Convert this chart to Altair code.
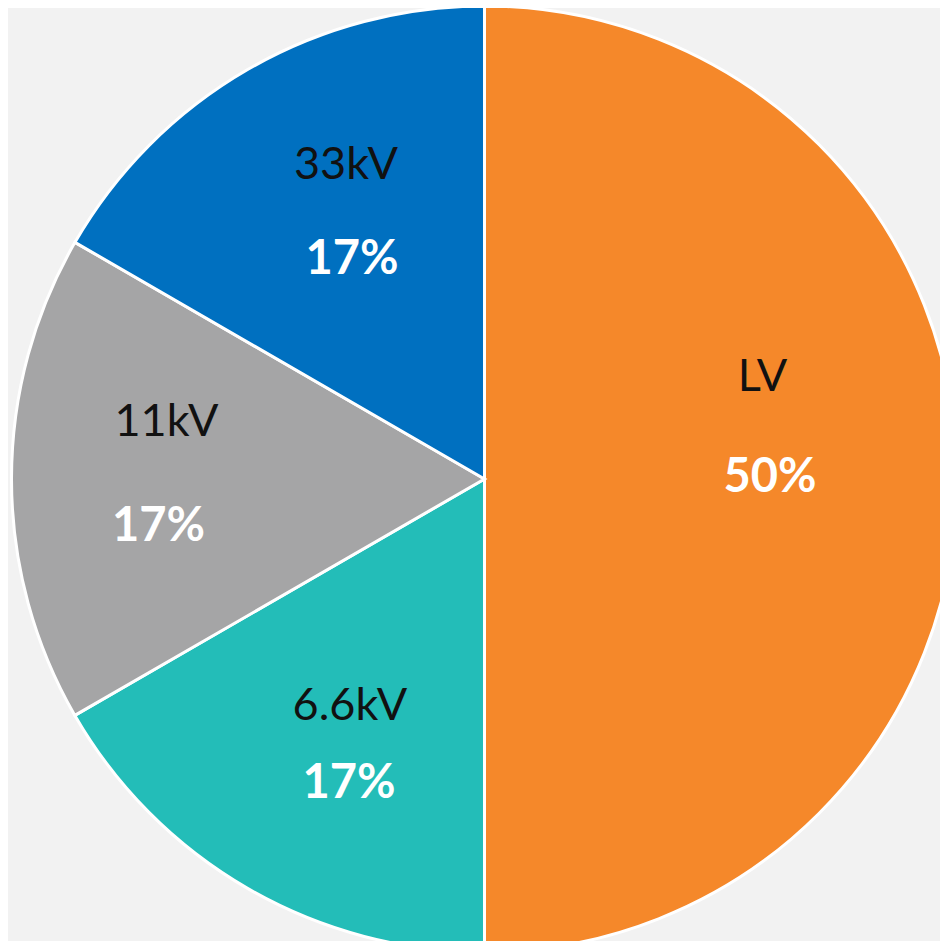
import altair as alt
import pandas as pd

categories = ["LV", "6.6kV", "11kV", "33kV"]
shares = [50, 16.67, 16.67, 16.66]
order = [1, 2, 3, 4]
colors = ["#F5882A", "#23BDB8", "#A5A5A6", "#0070C0"]

df = pd.DataFrame({"category": categories, "share": shares, "order": order})

CX, CY = 476.5, 471
R = 473

pie = alt.Chart(df).mark_arc(radius=R, stroke="white", strokeWidth=3, clip=True).encode(
    theta=alt.Theta("share:Q", stack=True),
    order=alt.Order("order:Q"),
    color=alt.Color("category:N", scale=alt.Scale(domain=categories, range=colors), legend=None),
    x=alt.value(CX),
    y=alt.value(CY),
)

base = (
    alt.Chart(df)
    .transform_joinaggregate(total="sum(share)")
    .transform_window(cum="sum(share)", sort=[alt.SortField("order")])
    .transform_calculate(
        mid="datum.cum - datum.share / 2",
        pct="format(datum.share / datum.total, '.0%')",
    )
)

# label placement style: (anchor radius, name offset, percent offset)
label_style = {
    "LV": (282, (-4, -102), (3.5, -1.5)),
    "33kV": (271, (-3, -79), (3, 16)),
    "11kV": (322, (4, -57), (-4, 48)),
    "6.6kV": (270, (0.5, -7), (-0.5, 71)),
}

layers = [pie]
for cat, (rad, (ndx, ndy), (pdx, pdy)) in label_style.items():
    sub = base.transform_filter(alt.datum.category == cat)
    name = sub.mark_text(
        radius=rad, dx=ndx, dy=ndy, font="Lato", fontSize=45,
        color="#111111", align="center", baseline="middle",
    ).encode(
        theta=alt.Theta("mid:Q", stack=False),
        text="category:N",
        x=alt.value(CX), y=alt.value(CY),
    )
    pct = sub.mark_text(
        radius=rad, dx=pdx, dy=pdy, font="Lato", fontSize=47, fontWeight="bold",
        color="white", align="center", baseline="middle",
    ).encode(
        theta=alt.Theta("mid:Q", stack=False),
        text="pct:N",
        x=alt.value(CX), y=alt.value(CY),
    )
    layers += [name, pct]

chart = (
    alt.layer(*layers)
    .properties(width=932, height=933, padding=0, autosize=alt.AutoSizeParams(type="none"))
    .configure(background="#f2f2f2")
    .configure_view(stroke=None)
)

chart.save("out.html", embed_options={"renderer": "svg", "actions": False})
